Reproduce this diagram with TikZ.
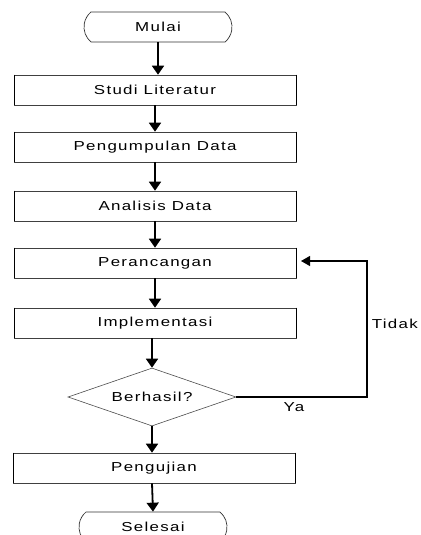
\documentclass[tikz,border=0pt]{standalone}
\usepackage{fontspec}
\setmainfont[FakeStretch=1.3,LetterSpace=10]{Liberation Sans}
\usetikzlibrary{shapes.geometric,shapes.misc,arrows.meta}
\tikzset{
  lbl/.style={font=\fontsize{13pt}{15pt}\selectfont, inner sep=0pt},
  procbox/.style={lbl, draw=black!75, line width=0.6pt, minimum width=282pt, minimum height=30pt,
    append after command={[line width=1.8pt,black] (\tikzlastnode.north west) edge (\tikzlastnode.south west)
      (\tikzlastnode.north east) edge (\tikzlastnode.south east)}},
  termbox/.style={lbl, draw=black!80, line width=0.7pt, rounded rectangle, rounded rectangle arc length=100,
    minimum width=148pt, minimum height=30pt},
  decbox/.style={lbl, draw=black!70, line width=0.6pt, diamond, aspect=2.9, minimum width=168pt, minimum height=58pt},
  flow/.style={line width=1.8pt, -{Triangle[length=9pt,width=12pt]}},
  loopline/.style={line width=1.1pt, -{Triangle[length=9pt,width=10pt]}}
}
\begin{document}
\begin{tikzpicture}[x=1pt,y=-1pt]
\useasboundingbox (0,0) rectangle (420,535);
\node[termbox] (mulai) at (158,27) {Mulai};
\node[procbox] (studi) at (155,90) {Studi Literatur};
\node[procbox] (kumpul) at (155,147) {Pengumpulan Data};
\node[procbox] (analisis) at (155,206) {Analisis Data};
\node[procbox] (rancang) at (155,263) {Perancangan};
\node[procbox] (impl) at (155,323) {Implementasi};
\node[decbox] (cek) at (152,397) {Berhasil?};
\node[procbox] (uji) at (154,468) {Pengujian};
\node[termbox] (selesai) at (153,527) {Selesai};
\node[lbl, anchor=east] (tidak) at (418,324) {Tidak};
\node[lbl] (ya) at (294,407) {Ya};
\coordinate (c1) at (367,397);
\coordinate (c2) at (367,261);
\coordinate (c3) at (301,261);
\draw[flow] (mulai.south) -- (mulai.south |- studi.north);
\draw[flow] (studi.south) -- (kumpul.north);
\draw[flow] (kumpul.south) -- (analisis.north);
\draw[flow] (analisis.south) -- (rancang.north);
\draw[flow] (rancang.south) -- (impl.north);
\draw[flow] (cek.north |- impl.south) -- (cek.north);
\draw[flow] (cek.south) -- (cek.south |- uji.north);
\draw[flow] (cek.south |- uji.south) -- (selesai.north);
\draw[loopline] (cek.east) -- (c1) -- (c2) -- (c3);
\end{tikzpicture}
\end{document}
